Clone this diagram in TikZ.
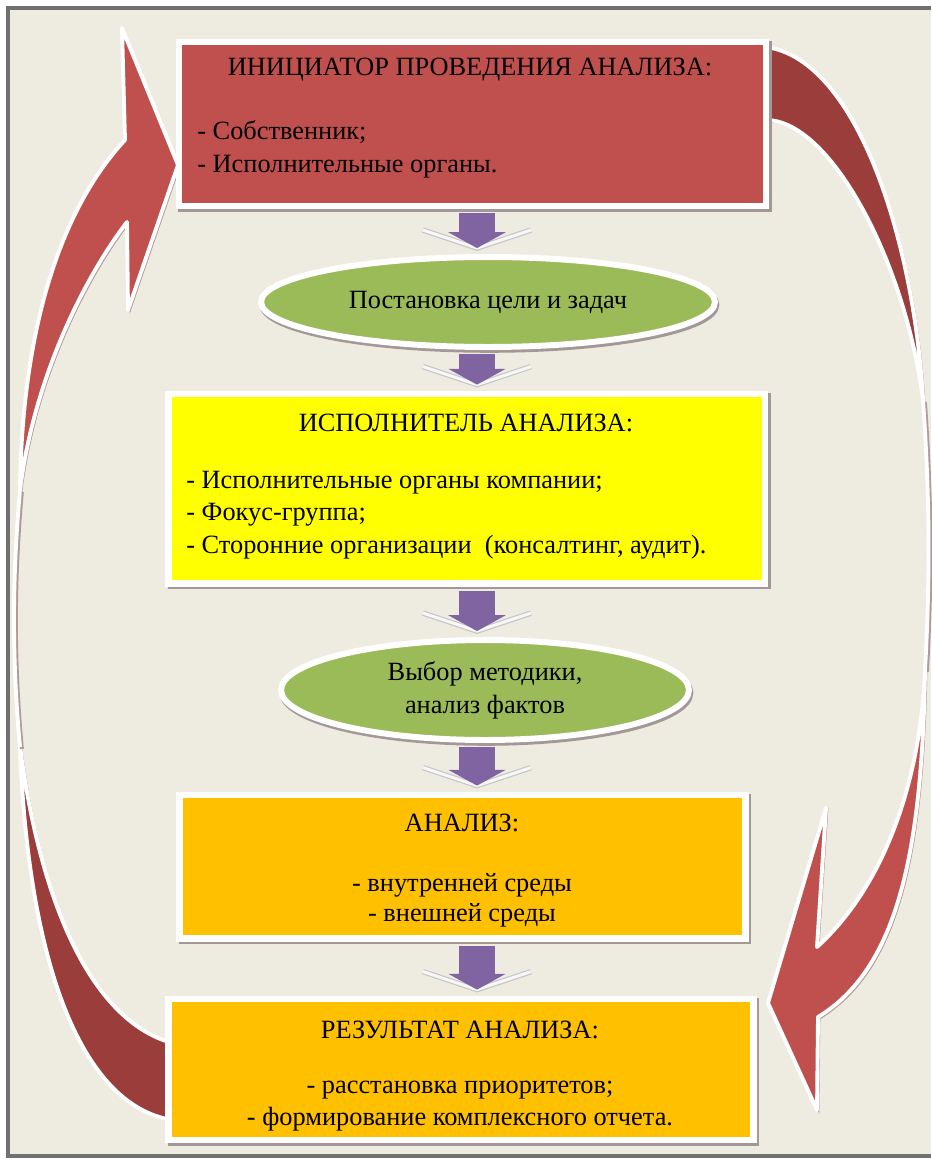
\documentclass[tikz,border=0pt]{standalone}
\usepackage{fontspec}
\setmainfont{Liberation Serif}
\usepackage{tikz}
\usetikzlibrary{arrows.meta,positioning,calc,shapes.geometric,shadows}
\newcommand{\stagefont}{\fontsize{15}{18.7}\selectfont}
\definecolor{paper}{HTML}{EEECE1}
\definecolor{framegray}{HTML}{707070}
\definecolor{initred}{HTML}{C0504D}
\definecolor{backred}{HTML}{9A3D3B}
\definecolor{goalgreen}{HTML}{9BBB59}
\definecolor{execyellow}{HTML}{FFFF00}
\definecolor{resorange}{HTML}{FFC000}
\definecolor{flowpurple}{HTML}{8064A2}
\definecolor{boxshadow}{HTML}{A39797}
\definecolor{loopshadow}{HTML}{B39A9A}

\tikzset{
  stagebox/.style={rectangle, draw=white, line width=3.9pt, inner sep=0pt,
    drop shadow={shadow xshift=1.4pt, shadow yshift=-1.4pt, draw=boxshadow, fill=boxshadow, opacity=1}},
  stageoval/.style={ellipse, draw=white, line width=3.4pt, inner sep=0pt, fill=goalgreen,
    font=\stagefont, align=center,
    drop shadow={shadow xshift=0.8pt, shadow yshift=-1.6pt, draw=boxshadow, fill=boxshadow, opacity=1}},
  headtext/.style={font=\stagefont, inner sep=0pt},
  listtext/.style={font=\stagefont, align=left, inner sep=0pt},
  loopband/.style={draw=white, line width=2.2pt, line join=round,
    drop shadow={shadow xshift=1.1pt, shadow yshift=-1.1pt, draw=loopshadow, fill=loopshadow, opacity=1}},
  loopline/.style={draw=white, line width=2.2pt,
    preaction={draw=loopshadow, line width=2.2pt, transform canvas={shift={(1.1pt,-1.1pt)}}}},
  chevron/.style={draw=gray!45, double=white!94!gray, double distance=1.7pt, line width=0.7pt},
  flowarrow/.style={draw=flowpurple, line width=21pt, -{Triangle[length=9pt, width=32.3pt]},
    shorten <=2.3pt, shorten >=3.4pt}
}

\begin{document}
\begin{tikzpicture}[x=0.02cm, y=-0.02cm]
\fill[white] (0,0) rectangle (931,1159);
\useasboundingbox (0,0) rectangle (931,1159);
\fill[paper] (8,8) rectangle (931,1156);
\draw[framegray, line width=1.8pt] (931,8) -- (8,8) -- (8,1156) -- (931,1156);

% return loop, left side
\fill[backred, loopband] (20,747) .. controls (28,960) and (80,1105) .. (172,1120)
  -- (172,1043) .. controls (90,1020) and (40,900) .. (20,747) -- cycle;
\draw[loopline] (20,490) .. controls (12,580) and (12,660) .. (20,747);
\fill[initred, loopband] (20,490) .. controls (22,330) and (60,210) .. (125,140)
  -- (122,28) -- (178,165) -- (128,310) -- (127,222)
  .. controls (90,270) and (35,370) .. (20,490) -- cycle;

% feedback loop, right side
\fill[backred, loopband] (766,47) .. controls (860,60) and (915,250) .. (923,400)
  .. controls (905,260) and (830,120) .. (766,120) -- cycle;
\draw[loopline] (923,400) .. controls (930,500) and (930,580) .. (925,670);
\fill[initred, loopband] (925,670) .. controls (922,860) and (895,970) .. (818,1017)
  -- (817,1110) -- (768,1003) -- (826,808) -- (817,947)
  .. controls (880,890) and (920,790) .. (925,670) -- cycle;

\node[stagebox, fill=initred, minimum width=11.74cm, minimum height=3.28cm] (init) at (472.5,124) {};
\node[headtext] (initT) at (470,70) {ИНИЦИАТОР ПРОВЕДЕНИЯ АНАЛИЗА:};
\node[listtext, anchor=west] (initL) at (197,149) {- Собственник;\\- Исполнительные органы.};

\node[stageoval, minimum width=9.08cm, minimum height=1.8cm] (goal) at (488,302) {Постановка цели и задач};

\node[stagebox, fill=execyellow, minimum width=11.93cm, minimum height=3.79cm] (exec) at (466.75,488.75) {};
\node[headtext] (execT) at (466,423) {ИСПОЛНИТЕЛЬ АНАЛИЗА:};
\node[listtext, anchor=west, font=\fontsize{15}{18.4}\selectfont] (execL) at (186,515)
  {- Исполнительные органы компании;\\- Фокус-группа;\\- Сторонние организации\ \ (консалтинг, аудит).};

\node[stageoval, minimum width=8.16cm, minimum height=2cm] (method) at (485,690) {Выбор методики,\\анализ фактов};

\node[stagebox, fill=resorange, minimum width=11.32cm, minimum height=2.87cm] (anal) at (462.5,866.75) {};
\node[headtext] (analT) at (462,823) {АНАЛИЗ:};
\node[listtext, align=center, font=\fontsize{15}{17}\selectfont] (analL) at (462,900) {- внутренней среды\\- внешней среды};

\node[stagebox, fill=resorange, minimum width=11.7cm, minimum height=2.82cm] (res) at (461,1069.5) {};
\node[headtext] (resT) at (460,1030) {РЕЗУЛЬТАТ АНАЛИЗА:};
\node[listtext, align=center, font=\fontsize{15}{18.1}\selectfont] (resL) at (460,1106)
  {- расстановка приоритетов;\\- формирование комплексного отчета.};

\coordinate (axis) at (477,0);
\foreach \src/\dst in {init/goal, goal/exec, exec/method, method/anal, anal/res}{
  \coordinate (top) at (\dst.north -| axis);
  \coordinate (tip) at ([yshift=3.4pt]top);
  \draw[chevron] ([shift={(-54,-18)}]tip) -- (tip) -- ([shift={(54,-18)}]tip);
  \draw[flowarrow] (\src.south -| axis) -- (top);
}
\end{tikzpicture}
\end{document}
